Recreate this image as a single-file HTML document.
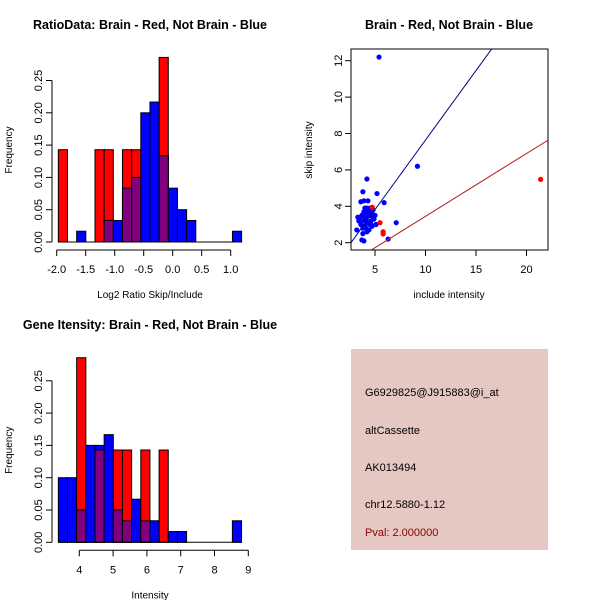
<!DOCTYPE html>
<html><head><meta charset="utf-8"><style>
body{margin:0;background:#fff;}
svg{display:block;font-family:"Liberation Sans",sans-serif;}
</style></head><body>
<svg id="s" width="600" height="600" viewBox="0 0 600 600"></svg>
<script>
// ---- Ratio histogram data ----
const ratioBinStart = -1.972, ratioBinWidth = 0.158;
const ratioRedCounts = [1,0,0,0,1,1,0,1,1,0,0,2,0,0,0,0,0,0,0,0];
const ratioBlueCounts = [0,0,1,0,0,2,2,5,6,12,13,8,5,3,2,0,0,0,0,1];
const ratioXTicks = [-2.0,-1.5,-1.0,-0.5,0.0,0.5,1.0];
const ratioXTickLabels = ["-2.0","-1.5","-1.0","-0.5","0.0","0.5","1.0"];
// ---- Intensity histogram data ----
const intBinStart = 3.38, intBinWidth = 0.271;
const intRedCounts = [0,0,2,0,1,0,1,1,0,1,0,1,0,0,0,0,0,0,0,0];
const intBlueCounts = [6,6,3,9,9,10,3,2,4,2,2,0,1,1,0,0,0,0,0,2];
const intXTicks = [4,5,6,7,8,9];
const redN = 7, blueN = 60;
const freqTicks = [0,0.05,0.10,0.15,0.20,0.25];
const freqTickLabels = ["0.00","0.05","0.10","0.15","0.20","0.25"];
// ---- Scatter data ----
const blueX = [4.2,3.8,5.2,3.9,4.3,5.9,7.1,6.3,3.9,3.7,3.2,5.4,9.2,3.6,4.0,4.4,4.1,4.6,4.8,3.5,3.9,4.2,4.5,4.0,3.8,4.3,4.7,4.9,5.0,4.1,3.6,4.4,4.6,3.7,4.2,4.0,4.8,3.4,4.5,5.1,4.3,3.9,4.1,4.6,3.8,4.4,4.0,4.2,3.3,4.7];
const blueY = [5.5,4.8,4.7,4.3,4.3,4.2,3.1,2.2,2.1,2.15,2.7,12.2,6.2,4.25,3.9,3.8,3.6,3.5,3.4,3.3,3.2,3.1,3.0,2.9,2.8,3.7,3.6,3.3,3.5,3.3,3.0,2.7,3.2,3.5,2.6,3.4,3.8,3.2,3.9,3.0,3.5,3.7,2.8,3.0,2.5,3.1,3.6,3.9,3.4,2.9];
const redX = [4.73,5.5,5.8,5.8,21.4];
const redY = [3.95,3.1,2.6,2.48,5.48];
const blueSlope = 0.764, redSlope = 0.345;
const scatXTicks = [5,10,15,20];
const scatYTicks = [2,4,6,8,10,12];

const svg = document.getElementById('s');
const NS = 'http://www.w3.org/2000/svg';
function mk(tag, attrs, parent){const e=document.createElementNS(NS,tag);for(const k in attrs)e.setAttribute(k,attrs[k]);(parent||svg).appendChild(e);return e;}
function txt(g,x,y,s,size,opts){const t=mk('text',Object.assign({x:x,y:y,'font-size':size,'text-anchor':'middle',fill:'#000'},opts||{}),g);t.textContent=s;return t;}

function hist(g, x0, unit, binStart, binW, red, blue, xTicks, xLabels, baseY, title, titleY, xlab){
  const fy = v => baseY - v*646;
  const fx = v => x0 + (v - binStart)*unit;
  const n = red.length;
  for(let i=0;i<n;i++){
    const l=fx(binStart+i*binW), w=binW*unit;
    const b=blue[i]/blueN, r=red[i]/redN;
    if(b>0){const e=mk('rect',{x:l,y:fy(b),width:w,height:baseY-fy(b),fill:'#0000ff',stroke:'#000','stroke-width':1},g);
      
      }
    if(r>0){const e=mk('rect',{x:l,y:fy(r),width:w,height:baseY-fy(r),fill:'#ff0000',stroke:'#000','stroke-width':1},g);
      
      }
    const m=Math.min(b,r);
    if(m>0){const e=mk('rect',{x:l,y:fy(m),width:w,height:baseY-fy(m),fill:'#800080',stroke:'#000','stroke-width':1},g);
      
      }
  }
  mk('line',{x1:fx(binStart),x2:fx(binStart+n*binW),y1:baseY,y2:baseY,stroke:'#000'},g);
  mk('line',{x1:52,x2:52,y1:fy(0),y2:fy(0.25),stroke:'#000'},g);
  freqTicks.forEach((v,i)=>{mk('line',{x1:46,x2:52,y1:fy(v),y2:fy(v),stroke:'#000'},g);
    txt(g,42,fy(v),freqTickLabels[i],11,{transform:`rotate(-90 42 ${fy(v)})`});});
  txt(g,12,baseY-92,'Frequency',10,{transform:`rotate(-90 12 ${baseY-92})`});
  const ay=baseY+8;
  mk('line',{x1:fx(xTicks[0]),x2:fx(xTicks[xTicks.length-1]),y1:ay,y2:ay,stroke:'#000'},g);
  xTicks.forEach((v,i)=>{mk('line',{x1:fx(v),x2:fx(v),y1:ay,y2:ay+6,stroke:'#000'},g);
    txt(g,fx(v),ay+23,xLabels[i],11,{});});
  txt(g,150,baseY+56,xlab,10,{});
  txt(g,150,titleY,title,12.5,{'font-weight':'bold'});
}
const g1=mk('g',{});
hist(g1,172.7+58*ratioBinStart,58,ratioBinStart,ratioBinWidth,ratioRedCounts,ratioBlueCounts,ratioXTicks,ratioXTickLabels,242,'RatioData: Brain - Red, Not Brain - Blue',29,'Log2 Ratio Skip/Include');
const g2=mk('g',{});
hist(g2,79.3+33.8*(intBinStart-4),33.8,intBinStart,intBinWidth,intRedCounts,intBlueCounts,intXTicks,intXTicks.map(String),542.3,'Gene Itensity: Brain - Red, Not Brain - Blue',329,'Intensity');

// scatter
const g3=mk('g',{});
const sx=v=>375+10.1*(v-5), sy=v=>242.7-18.2*(v-2);
const cp=mk('clipPath',{id:'cp'},g3);
mk('rect',{x:351,y:49,width:197,height:201},cp);
blueX.forEach((x,i)=>{const c=mk('circle',{cx:sx(x),cy:sy(blueY[i]),r:2.6,fill:'#0000ff'},g3);
  
  });
redX.forEach((x,i)=>{const c=mk('circle',{cx:sx(x),cy:sy(redY[i]),r:2.6,fill:'#ff0000'},g3);
  
  });
const bl=mk('line',{x1:sx(0),y1:sy(0),x2:sx(30),y2:sy(30*blueSlope),stroke:'#00008b','clip-path':'url(#cp)'},g3);


const rl=mk('line',{x1:sx(0),y1:sy(0),x2:sx(30),y2:sy(30*redSlope),stroke:'#b22222','clip-path':'url(#cp)'},g3);


mk('rect',{x:351,y:49,width:197,height:201,fill:'none',stroke:'#000'},g3);
mk('line',{x1:sx(5),x2:sx(20),y1:250,y2:250,stroke:'#000'},g3);
scatXTicks.forEach(v=>{mk('line',{x1:sx(v),x2:sx(v),y1:250,y2:256,stroke:'#000'},g3);txt(g3,sx(v),273,String(v),11,{});});
scatYTicks.forEach(v=>{mk('line',{x1:345,x2:351,y1:sy(v),y2:sy(v),stroke:'#000'},g3);
  txt(g3,342,sy(v),String(v),11,{transform:`rotate(-90 342 ${sy(v)})`});});
txt(g3,449,298,'include intensity',10,{});
txt(g3,312,150,'skip intensity',10,{transform:'rotate(-90 312 150)'});
txt(g3,449,29,'Brain - Red, Not Brain - Blue',12.5,{'font-weight':'bold'});

// info box
const g4=mk('g',{});
mk('rect',{x:351,y:349,width:197,height:201,fill:'#e6c8c2'},g4);
[['G6929825@J915883@i_at',396,'#000','probe-id'],['altCassette',434,'#000','event-type'],['AK013494',471,'#000','accession'],['chr12.5880-1.12',508,'#000','location'],['Pval: 2.000000',536,'#8b0000','pvalue']].forEach(a=>{
  const t=txt(g4,365,a[1],a[0],11,{'text-anchor':'start',fill:a[2]});
  
  });
</script>
</body></html>
